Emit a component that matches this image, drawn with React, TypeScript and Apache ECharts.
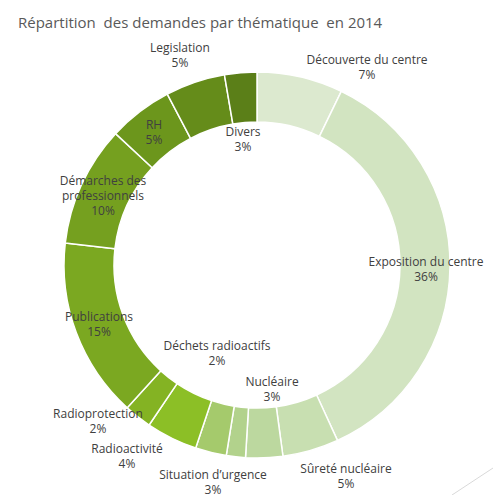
import React, { useEffect, useRef } from "react";
import * as echarts from "echarts";

const titleText = "Répartition  des demandes par thématique  en 2014";

const categories = [
  "Découverte du centre",
  "Exposition du centre",
  "Sûreté nucléaire",
  "Nucléaire",
  "Déchets radioactifs",
  "Situation d’urgence",
  "Radioactivité",
  "Radioprotection",
  "Publications",
  "Démarches des professionnels",
  "RH",
  "Legislation",
  "Divers",
];

const shares = [7.2, 36.0, 4.7, 3.1, 1.6, 2.6, 4.3, 2.3, 15.1, 10.1, 5.4, 5.0, 2.7];

const colors = [
  "#dce9cf",
  "#d2e4c1",
  "#c8dfb1",
  "#bcd89f",
  "#b2d28c",
  "#a5ca6c",
  "#8cbf26",
  "#84b323",
  "#7ba821",
  "#75a01f",
  "#6c961c",
  "#658c1a",
  "#5b7f18",
];

// label centres (layout only)
const labelPos: [number, number][] = [
  [367, 67],
  [426, 269],
  [346, 476],
  [272, 389],
  [217, 353],
  [213, 482],
  [127, 456],
  [98, 421],
  [99, 324],
  [103, 195],
  [154, 132],
  [180, 55],
  [243, 139],
];

const FONT = "'Open Sans', 'Noto Sans', sans-serif";

export default function App() {
  const ref = useRef<HTMLDivElement>(null);
  useEffect(() => {
    if (!ref.current) return;
    const chart = echarts.init(ref.current, undefined, { renderer: "svg" });
    chart.setOption({
      animation: false,
      backgroundColor: "#ffffff",
      title: {
        text: titleText,
        left: 13,
        top: 9,
        textStyle: {
          fontSize: 15,
          fontWeight: "normal",
          color: "#595959",
          fontFamily: FONT,
        },
      },
      graphic: [
        {
          type: "line",
          shape: { x1: 452, y1: 495, x2: 493, y2: 468 },
          style: { stroke: "#d9d9d9", lineWidth: 1 },
          silent: true,
        },
      ],
      series: [
        {
          type: "pie",
          center: [257, 265],
          radius: [143, 193],
          startAngle: 90,
          clockwise: true,
          avoidLabelOverlap: false,
          silent: true,
          itemStyle: { borderColor: "#ffffff", borderWidth: 1.5 },
          label: {
            show: true,
            position: "outside",
            fontSize: 12,
            lineHeight: 15,
            color: "#404040",
            fontFamily: FONT,
            align: "center",
            formatter: (p: any) => {
              const name = String(p.name).replace(
                "Démarches des professionnels",
                "Démarches des\nprofessionnels"
              );
              return `${name}\n${Math.round(p.percent)}%`;
            },
          },
          labelLine: { show: false },
          labelLayout: (params: any) => {
            const pos = labelPos[params.dataIndex];
            return {
              x: pos[0],
              y: pos[1],
              align: "center",
              verticalAlign: "middle",
              hideOverlap: false,
            };
          },
          data: categories.map((c, i) => ({
            name: c,
            value: shares[i],
            itemStyle: { color: colors[i] },
          })),
        },
      ],
    });
    return () => chart.dispose();
  }, []);
  return (
    <div
      ref={ref}
      style={{ position: "fixed", left: 0, top: 0, width: 493, height: 495 }}
    />
  );
}
